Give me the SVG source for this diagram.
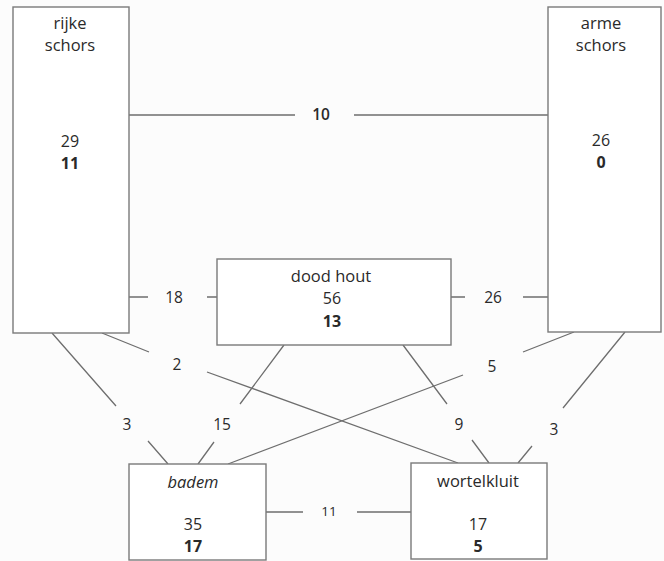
<svg xmlns="http://www.w3.org/2000/svg" width="664" height="561" viewBox="0 0 664 561">
<style>
.box{fill:#fff;stroke:#7a7a7a;stroke-width:1.4}
.ln{stroke:#6e6e6e;stroke-width:1.3;fill:none}
text{font-family:"Open Sans","DejaVu Sans",sans-serif;fill:#2a2a2a;text-anchor:middle}
.t{font-size:16.5px}
.n{font-size:16px}
.b{font-size:16px;font-weight:bold}
.e{font-size:15.5px}
</style>
<rect width="664" height="561" fill="#fcfcfc"/>
<g id="connectors">
<path class="ln" d="M129,115H295M354,115H548"/>
<path class="ln" d="M129,297H148M207,297H217"/>
<path class="ln" d="M451,297H465M523,297H548"/>
<path class="ln" d="M52,333L116,406M148,441L168,464"/>
<path class="ln" d="M102,333L149,352M207,372L458,463"/>
<path class="ln" d="M284,345L240,404M214,442L198,464"/>
<path class="ln" d="M574,332L523,352M463,375L228,464"/>
<path class="ln" d="M403,345L447,404M472,440L489,463"/>
<path class="ln" d="M625,332L563,408M532,446L518,463"/>
<path class="ln" d="M266,512H303M357,512H411"/>
<g class="e">
<text x="321" y="120" font-weight="600">10</text>
<text x="174" y="303">18</text>
<text x="493" y="303">26</text>
<text x="177" y="370">2</text>
<text x="492" y="372">5</text>
<text x="127" y="430">3</text>
<text x="222" y="430">15</text>
<text x="459" y="430">9</text>
<text x="554" y="435">3</text>
<text x="329" y="516" font-size="13.5">11</text>
</g>
</g>
<g id="rijke-schors">
<rect class="box" x="13" y="7" width="116" height="326"/>
<text class="t" x="70" y="29">rijke</text>
<text class="t" x="70" y="51">schors</text>
<text class="n" x="70" y="147">29</text>
<text class="b" x="70" y="169">11</text>
</g>
<g id="arme-schors">
<rect class="box" x="548" y="7" width="113" height="325"/>
<text class="t" x="601" y="29">arme</text>
<text class="t" x="601" y="51">schors</text>
<text class="n" x="601" y="146">26</text>
<text class="b" x="601" y="168">0</text>
</g>
<g id="dood-hout">
<rect class="box" x="217" y="259" width="234" height="86"/>
<text class="t" x="331" y="282">dood hout</text>
<text class="n" x="332" y="304">56</text>
<text class="b" x="332" y="327">13</text>
</g>
<g id="badem">
<rect class="box" x="129" y="464" width="137" height="96"/>
<text class="t" x="193" y="488" font-style="italic">badem</text>
<text class="n" x="193" y="530">35</text>
<text class="b" x="193" y="552">17</text>
</g>
<g id="wortelkluit">
<rect class="box" x="411" y="463" width="136" height="96"/>
<text class="t" x="478" y="487">wortelkluit</text>
<text class="n" x="478" y="530">17</text>
<text class="b" x="478" y="552">5</text>
</g>
</svg>
